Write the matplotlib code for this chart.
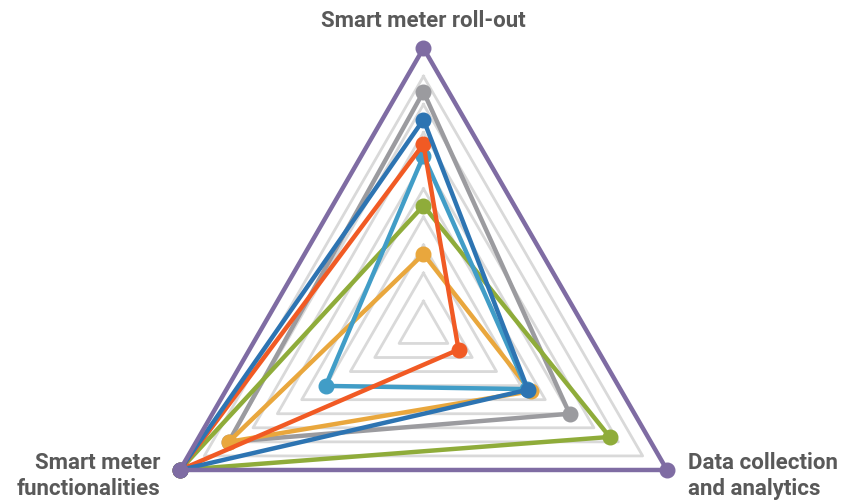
import numpy as np
import matplotlib.pyplot as plt

# three axes of the radar, counter-clockwise from the top
axes_labels = ["Smart meter roll-out", "Smart meter\nfunctionalities", "Data collection\nand analytics"]

# scores per series: [roll-out, functionalities, data collection]
purple = [10.0, 10.0, 10.0]
gray = [8.45, 8.0, 6.0]
green = [4.4, 10.0, 7.65]
yellow = [2.68, 8.0, 4.4]
lightblue = [6.18, 4.02, 4.25]
red = [6.59, 10.0, 1.44]
darkblue = [7.46, 10.0, 4.29]

series = [
    (gray, "#9B9B9F"),
    (green, "#8FAC3A"),
    (yellow, "#E9A73D"),
    (lightblue, "#419DC7"),
    (red, "#F15A24"),
    (darkblue, "#2D74B2"),
    (purple, "#7F6CA3"),
]

levels = np.arange(1, 11)

theta = np.array([0, 2 * np.pi / 3, 4 * np.pi / 3])
theta_closed = np.append(theta, theta[0])

fig = plt.figure(figsize=(8.43, 5.02), dpi=100)
ax = fig.add_axes([0.1688, -0.2183, 0.6671, 1.1203], projection="polar")
ax.set_theta_offset(np.pi / 2)
ax.set_ylim(0, 10)
ax.grid(False)
ax.spines["polar"].set_visible(False)
ax.set_xticks([])
ax.set_yticks([])
ax.patch.set_alpha(0)

# triangular grid
for lv in levels:
    ax.plot(theta_closed, [lv] * 4, color="#D9D9D9", lw=2.0, zorder=1, clip_on=False)

for i, (vals, col) in enumerate(series):
    v = np.append(vals, vals[0])
    ax.plot(theta_closed, v, color=col, lw=3.2, zorder=3 + i, clip_on=False,
            solid_joinstyle="miter")
    ax.plot(theta, vals, "o", color=col, ms=10.5, zorder=3 + i, clip_on=False)

label_kw = dict(fontsize=16, fontweight="bold", color="#595959", family="Roboto",
                linespacing=1.2)
fig.text(423 / 843, 1 - 21 / 502, axes_labels[0], ha="center", va="center", **label_kw)
fig.text(160 / 843, 1 - 476 / 502, axes_labels[1], ha="right", va="center", **label_kw)
fig.text(688 / 843, 1 - 476 / 502, axes_labels[2], ha="left", va="center", **label_kw)

fig.savefig("out.png", dpi=100)
